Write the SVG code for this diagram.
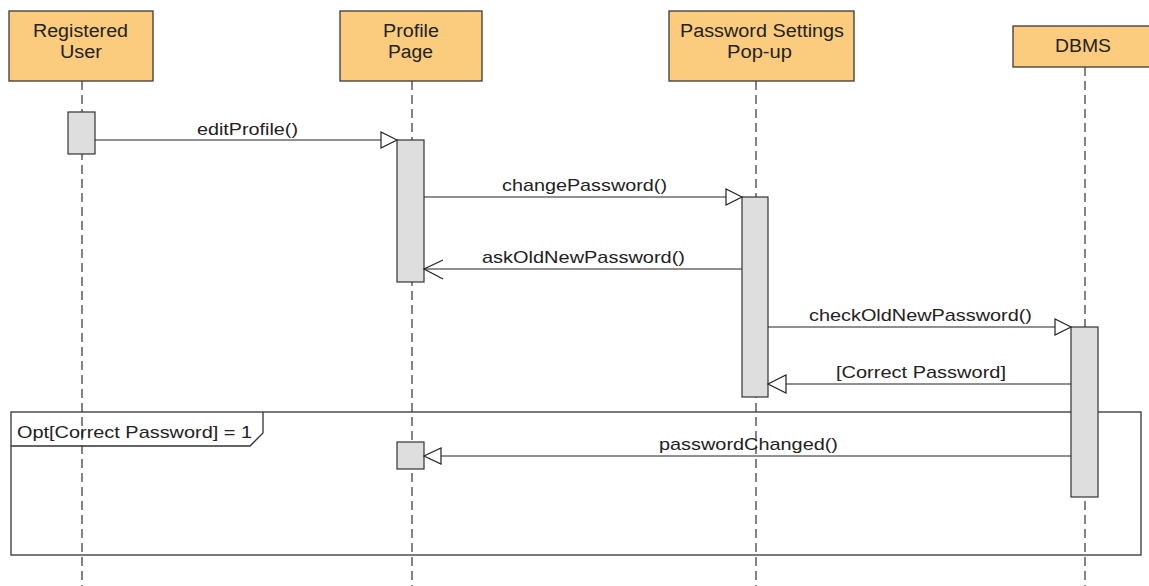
<svg xmlns="http://www.w3.org/2000/svg" width="1149" height="586" viewBox="0 0 1149 586">
<style>
  .hdr{fill:#FBCB7E;stroke:#3a3a3a;stroke-width:1.3}
  .ht{font-family:"Liberation Sans",Arial,sans-serif;font-size:18px;fill:#222}
  .life{stroke:#333;stroke-width:1.2;stroke-dasharray:9 5;fill:none}
  .act{fill:#DEDEDE;stroke:#333;stroke-width:1.2}
  .msg{stroke:#222;stroke-width:1.2;fill:none}
  .head{fill:#fff;stroke:#222;stroke-width:1.2}
  .mt{font-family:"Liberation Sans",Arial,sans-serif;font-size:17px;fill:#222}
  .frame{fill:none;stroke:#333;stroke-width:1.3}
</style>
<rect width="1149" height="586" fill="#fff"/>

<g id="lifelines">
  <line class="life" x1="82" y1="81" x2="82" y2="586"/>
  <line class="life" x1="412" y1="81" x2="412" y2="586"/>
  <line class="life" x1="756" y1="81" x2="756" y2="586"/>
  <line class="life" x1="1085" y1="67" x2="1085" y2="586"/>
</g>

<g id="node-registered-user">
  <rect class="hdr" x="9" y="11" width="144" height="70"/>
  <text class="ht" x="33" y="37" textLength="95" lengthAdjust="spacingAndGlyphs">Registered</text>
  <text class="ht" x="60" y="58" textLength="42" lengthAdjust="spacingAndGlyphs">User</text>
</g>
<g id="node-profile-page">
  <rect class="hdr" x="340" y="11" width="142" height="70"/>
  <text class="ht" x="383" y="37" textLength="56" lengthAdjust="spacingAndGlyphs">Profile</text>
  <text class="ht" x="388" y="58" textLength="45" lengthAdjust="spacingAndGlyphs">Page</text>
</g>
<g id="node-password-settings">
  <rect class="hdr" x="669" y="11" width="185" height="70"/>
  <text class="ht" x="680" y="37" textLength="164" lengthAdjust="spacingAndGlyphs">Password Settings</text>
  <text class="ht" x="727" y="58" textLength="65" lengthAdjust="spacingAndGlyphs">Pop-up</text>
</g>
<g id="node-dbms">
  <rect class="hdr" x="1013" y="26" width="146" height="41"/>
  <text class="ht" x="1055" y="52" textLength="56" lengthAdjust="spacingAndGlyphs">DBMS</text>
</g>

<g id="opt-frame">
  <rect class="frame" x="11" y="412" width="1130" height="143"/>
  <path class="frame" d="M11,446 H250 L263,433 V412"/>
  <text class="mt" x="17" y="438" textLength="235" lengthAdjust="spacingAndGlyphs" font-size="17.5">Opt[Correct Password] = 1</text>
</g>

<g id="activations">
  <rect class="act" x="68" y="112" width="27" height="42"/>
  <rect class="act" x="397" y="140" width="27" height="142"/>
  <rect class="act" x="742" y="197" width="26" height="200"/>
  <rect class="act" x="1071" y="327" width="27" height="170"/>
  <rect class="act" x="397" y="442" width="27" height="27"/>
</g>

<g id="connectors">
  <g id="msg-editProfile">
    <line class="msg" x1="95" y1="140" x2="381" y2="140"/>
    <polygon class="head" points="397,140 381,132 381,148"/>
    <text class="mt" x="197" y="135" textLength="101" lengthAdjust="spacingAndGlyphs">editProfile()</text>
  </g>
  <g id="msg-changePassword">
    <line class="msg" x1="424" y1="197" x2="726" y2="197"/>
    <polygon class="head" points="742,197 726,189 726,205"/>
    <text class="mt" x="502" y="191" textLength="165" lengthAdjust="spacingAndGlyphs">changePassword()</text>
  </g>
  <g id="msg-askOldNewPassword">
    <line class="msg" x1="742" y1="269" x2="424" y2="269"/>
    <polyline class="msg" points="443,260 424,269 443,279"/>
    <text class="mt" x="482" y="263" textLength="203" lengthAdjust="spacingAndGlyphs">askOldNewPassword()</text>
  </g>
  <g id="msg-checkOldNewPassword">
    <line class="msg" x1="768" y1="327" x2="1055" y2="327"/>
    <polygon class="head" points="1071,327 1055,319 1055,335"/>
    <text class="mt" x="809" y="321" textLength="223" lengthAdjust="spacingAndGlyphs">checkOldNewPassword()</text>
  </g>
  <g id="msg-correctPassword">
    <line class="msg" x1="1071" y1="384" x2="786" y2="384"/>
    <polygon class="head" points="768,384 786,375 786,393"/>
    <text class="mt" x="836" y="378" textLength="170" lengthAdjust="spacingAndGlyphs">[Correct Password]</text>
  </g>
  <g id="msg-passwordChanged">
    <line class="msg" x1="1071" y1="456" x2="441" y2="456"/>
    <polygon class="head" points="424,456 441,448 441,464"/>
    <text class="mt" x="659" y="450" textLength="179" lengthAdjust="spacingAndGlyphs">passwordChanged()</text>
  </g>
</g>
</svg>
